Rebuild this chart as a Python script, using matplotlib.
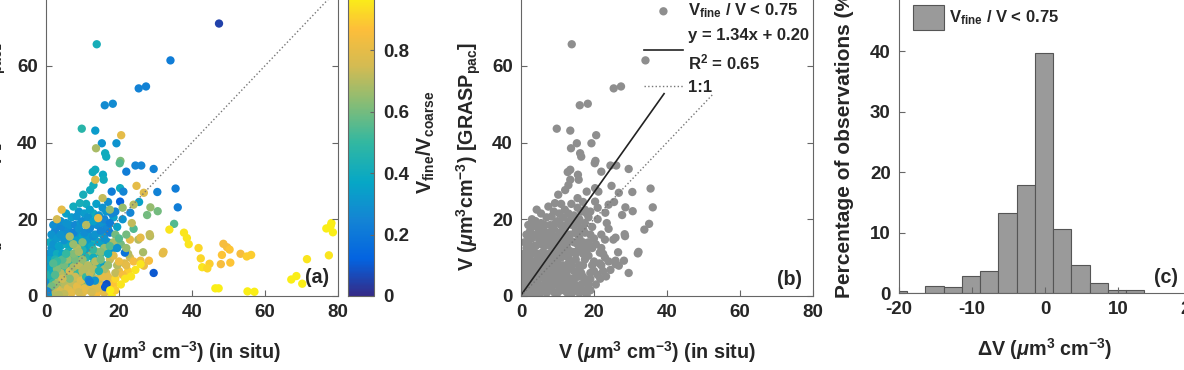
import numpy as np
import matplotlib
matplotlib.use("Agg")
import matplotlib.pyplot as plt
from matplotlib.colors import LinearSegmentedColormap

plt.rcParams['font.family'] = ['Liberation Sans', 'DejaVu Sans']
plt.rcParams['font.weight'] = 'bold'
plt.rcParams['axes.unicode_minus'] = False
plt.rcParams['mathtext.fontset'] = 'custom'
plt.rcParams['mathtext.rm'] = 'Liberation Sans:bold'
plt.rcParams['mathtext.it'] = 'Liberation Sans:italic:bold'
plt.rcParams['mathtext.bf'] = 'Liberation Sans:bold'

# ---- data: (in situ V, GRASP V, Vfine/Vcoarse), in drawing order ----
pts = [
    # left edge, blue / teal
    (0.3, 0.5, 0.30), (0.5, 2.0, 0.35), (0.8, 3.5, 0.28), (0.4, 5.0, 0.32), (1.0, 6.5, 0.38),
    (0.6, 8.0, 0.30), (1.2, 9.5, 0.35), (0.8, 11.0, 0.28), (1.5, 12.5, 0.30), (1.0, 14.0, 0.40),
    (2.0, 15.5, 0.33), (1.5, 1.0, 0.45), (2.2, 0.3, 0.40), (1.8, 4.5, 0.42), (2.5, 7.5, 0.45),
    (2.0, 10.5, 0.30), (3.0, 12.0, 0.28), (2.5, 17.0, 0.25), (3.4, 18.2, 0.25), (4.7, 17.7, 0.26),
    (6.1, 17.3, 0.28), (1.0, 9.5, 0.35), (1.5, 11.5, 0.32), (1.5, 16.0, 0.30), (2.0, 18.5, 0.28),
    # middle band, blue / teal
    (3.0, 11.0, 0.40), (4.5, 11.0, 0.35), (8.0, 11.0, 0.45), (10.0, 11.0, 0.38), (11.5, 12.0, 0.35),
    (2.0, 13.5, 0.30), (4.0, 13.0, 0.38), (5.5, 13.5, 0.42), (7.0, 14.0, 0.32), (9.0, 14.0, 0.40),
    (10.5, 13.5, 0.36), (12.0, 14.5, 0.30), (13.5, 14.5, 0.45), (15.5, 13.5, 0.40), (17.0, 14.0, 0.30),
    (3.0, 15.0, 0.32), (5.0, 16.0, 0.28), (6.5, 15.0, 0.35), (8.5, 16.0, 0.30), (18.0, 12.0, 0.30),
    (10.0, 15.5, 0.36), (11.5, 16.0, 0.32), (13.0, 15.5, 0.28), (15.5, 16.0, 0.38), (17.0, 17.5, 0.30),
    (4.0, 19.5, 0.28), (6.5, 18.5, 0.30), (8.0, 18.5, 0.26), (9.5, 19.0, 0.32),
    (11.0, 18.5, 0.40), (12.5, 18.5, 0.30), (14.0, 18.5, 0.28), (15.5, 19.0, 0.30), (16.5, 17.5, 0.26),
    (18.5, 20.5, 0.35), (5.5, 21.5, 0.35), (9.0, 22.0, 0.30), (10.5, 21.5, 0.33), (13.0, 21.5, 0.40),
    (16.5, 22.0, 0.32), (18.0, 21.5, 0.25), (13.8, 24.0, 0.35), (11.0, 24.0, 0.40),
    (3.5, 13.0, 0.35), (5.0, 14.5, 0.30), (6.5, 13.0, 0.38), (8.0, 14.5, 0.35), (9.5, 13.0, 0.30),
    (11.0, 14.5, 0.32), (12.5, 13.0, 0.38), (4.0, 16.0, 0.30), (7.5, 16.5, 0.24), (9.0, 17.5, 0.30),
    (10.5, 16.5, 0.28), (12.0, 17.5, 0.26), (13.5, 16.0, 0.30), (15.0, 17.0, 0.25), (14.5, 14.0, 0.35),
    (16.0, 15.0, 0.30), (17.5, 16.5, 0.22), (5.5, 19.0, 0.30), (7.0, 20.5, 0.33), (8.4, 20.7, 0.30),
    (10.0, 19.5, 0.28), (11.5, 20.5, 0.30), (13.0, 19.5, 0.35), (14.5, 21.0, 0.30), (16.0, 20.0, 0.25),
    (17.5, 19.0, 0.22), (9.3, 24.2, 0.42), (7.5, 23.3, 0.40), (10.2, 26.4, 0.42), (12.1, 27.6, 0.40),
    (13.0, 28.9, 0.42), (18.0, 27.2, 0.22), (20.3, 28.1, 0.40), (21.2, 27.2, 0.25), (20.3, 24.6, 0.12),
    (12.0, 22.5, 0.35), (15.5, 23.0, 0.30), (17.0, 24.5, 0.28), (19.0, 22.0, 0.25), (21.0, 20.0, 0.30),
    (19.5, 18.0, 0.35), (6.0, 11.5, 0.42), (10.0, 12.0, 0.45), (19.0, 16.0, 0.60),
    (4.3, 22.5, 0.80), (14.3, 20.3, 0.80), (13.5, 30.3, 0.78), (11.0, 18.5, 0.70), (8.5, 12.5, 0.70),
    (14.0, 11.5, 0.72), (16.0, 12.5, 0.65), (12.0, 10.5, 0.60), (18.5, 14.0, 0.68), (6.5, 15.5, 0.68),
    (15.5, 25.5, 0.72), (17.5, 22.5, 0.65), (3.0, 20.0, 0.75), (7.5, 13.5, 0.66), (10.0, 14.0, 0.62),
    # low cluster, olive / tan with some teal
    (1.0, 1.5, 0.40), (3.0, 1.0, 0.70), (6.0, 1.2, 0.72), (8.0, 1.8, 0.75), (10.0, 0.8, 0.78),
    (11.5, 2.5, 0.72), (13.0, 0.5, 0.80), (15.0, 1.5, 0.82),
    (2.0, 3.5, 0.50), (4.5, 3.0, 0.72), (6.5, 3.0, 0.68), (8.0, 3.8, 0.70), (10.0, 3.2, 0.60),
    (12.5, 2.5, 0.65), (14.5, 3.5, 0.72), (18.0, 4.0, 0.80),
    (1.0, 5.5, 0.45), (3.5, 5.0, 0.65), (5.0, 5.8, 0.70), (7.0, 5.5, 0.72), (9.0, 5.5, 0.66),
    (10.5, 4.5, 0.70), (12.5, 5.5, 0.62), (16.5, 6.0, 0.75), (13.0, 8.5, 0.55),
    (1.5, 7.5, 0.38), (3.5, 7.5, 0.60), (5.5, 7.0, 0.68), (7.0, 7.0, 0.70), (8.5, 7.5, 0.50),
    (10.5, 8.0, 0.62), (12.0, 6.5, 0.68), (14.0, 8.0, 0.45), (16.0, 8.0, 0.35),
    (2.5, 9.5, 0.45), (4.0, 8.5, 0.62), (5.5, 9.5, 0.58), (7.0, 9.0, 0.50),
    (9.0, 9.5, 0.55), (11.0, 10.0, 0.45), (13.0, 10.0, 0.40), (15.0, 11.0, 0.50),
    (6.5, 10.5, 0.60), (13.0, 12.0, 0.50),
    (4.0, 2.5, 0.45), (6.0, 7.5, 0.45), (8.0, 6.0, 0.50), (3.0, 5.5, 0.42), (9.5, 9.5, 0.42),
    (2.0, 6.5, 0.40), (7.0, 10.0, 0.40), (5.0, 6.5, 0.48),
    (2.0, 1.0, 0.70), (3.0, 2.0, 0.72), (4.0, 1.5, 0.75), (5.0, 3.0, 0.70), (3.5, 4.0, 0.68),
    (2.5, 3.0, 0.65), (6.0, 2.0, 0.78), (7.0, 3.5, 0.72), (5.5, 5.0, 0.66), (4.0, 6.0, 0.70),
    (3.0, 7.0, 0.62), (6.5, 6.5, 0.75), (8.0, 5.0, 0.74), (7.5, 7.5, 0.68), (5.0, 8.0, 0.60),
    (9.0, 8.0, 0.72), (8.5, 2.5, 0.80), (6.0, 9.5, 0.65), (4.5, 9.5, 0.55), (3.0, 9.0, 0.50),
    (2.5, 5.5, 0.55), (1.5, 2.5, 0.60), (9.5, 4.0, 0.78), (10.0, 6.5, 0.70), (10.5, 2.0, 0.80),
    (7.0, 0.8, 0.80), (5.0, 0.5, 0.72), (3.5, 0.3, 0.70), (8.0, 9.5, 0.60), (10.0, 9.5, 0.65),
    (11.0, 5.0, 0.50), (9.0, 1.0, 0.75), (6.5, 4.5, 0.62), (4.5, 4.5, 0.74), (2.0, 8.5, 0.55),
    (11.5, 8.0, 0.70), (12.0, 3.5, 0.66), (7.5, 11.0, 0.62), (5.5, 11.0, 0.50), (9.0, 11.5, 0.68),
    (0.5, 0.3, 0.35), (0.4, 1.2, 0.25),
    # lower right of cluster, orange / yellow with a few blues
    (11.0, 1.5, 0.80), (12.5, 3.0, 0.78), (14.0, 4.5, 0.75), (15.5, 2.5, 0.85), (17.0, 5.0, 0.80),
    (18.5, 3.0, 0.88), (20.0, 6.5, 0.80), (21.5, 8.5, 0.78), (23.0, 10.0, 0.75), (19.5, 8.0, 0.70),
    (17.5, 9.5, 0.72), (16.0, 7.0, 0.68), (13.5, 9.0, 0.70), (22.5, 6.5, 0.90), (24.0, 9.0, 0.85),
    (14.0, 0.8, 0.85), (19.0, 4.5, 0.92), (12.0, 6.0, 0.72), (10.5, 7.0, 0.70), (15.0, 11.5, 0.62),
    (17.5, 13.0, 0.55), (20.5, 13.5, 0.60), (22.5, 11.0, 0.70),
    (11.7, 4.2, 0.25), (16.6, 3.1, 0.08), (18.0, 0.2, 0.97), (21.6, 11.3, 0.18), (20.0, 9.0, 0.82),
    (22.0, 8.0, 0.80), (19.0, 6.0, 0.72), (14.0, 2.0, 0.78), (15.5, 5.0, 0.80), (13.0, 7.0, 0.70),
    (17.0, 8.0, 0.65), (15.0, 9.5, 0.60), (18.5, 10.5, 0.78), (13.4, 4.0, 0.30), (12.5, 1.0, 0.75),
    (16.0, 0.8, 0.80), (20.5, 3.0, 0.95), (19.0, 1.5, 0.90), (21.0, 5.5, 0.85), (14.5, 6.5, 0.45),
    (23.0, 14.7, 0.80), (25.3, 14.7, 0.70), (28.5, 15.6, 0.70), (22.0, 12.5, 0.65), (19.5, 12.5, 0.30),
    (17.0, 11.0, 0.40), (22.0, 16.0, 0.60), (24.0, 17.5, 0.55), (20.0, 15.0, 0.55), (23.5, 19.0, 0.72),
    (25.5, 24.5, 0.35), (21.0, 23.0, 0.65), (12.0, 3.7, 0.22), (16.2, 2.3, 0.10),
    # sparse points
    (47.4, 71.0, 0.05), (13.9, 65.6, 0.42), (34.1, 61.4, 0.22),
    (25.4, 54.1, 0.24), (27.4, 54.6, 0.24), (16.1, 49.7, 0.27), (18.3, 50.1, 0.27),
    (9.8, 43.6, 0.47), (13.5, 43.1, 0.33), (20.6, 41.9, 0.80),
    (15.3, 39.8, 0.30), (19.3, 39.8, 0.30), (13.7, 38.5, 0.68),
    (16.2, 37.2, 0.40), (16.5, 36.3, 0.40), (20.4, 35.2, 0.62), (20.2, 34.6, 0.55),
    (24.5, 34.0, 0.25), (26.1, 34.0, 0.25), (29.5, 33.1, 0.24), (22.0, 32.4, 0.22),
    (12.8, 32.3, 0.40), (13.5, 32.9, 0.40), (15.6, 31.6, 0.38), (15.8, 30.3, 0.40),
    (30.5, 27.1, 0.24), (35.5, 28.0, 0.22), (36.1, 23.1, 0.22), (35.1, 18.8, 0.55),
    (33.8, 17.3, 0.95), (26.8, 26.9, 0.78), (24.8, 28.7, 0.80), (24.0, 23.8, 0.70),
    (28.6, 23.1, 0.65), (30.6, 22.1, 0.60), (27.7, 21.1, 0.60), (23.1, 21.7, 0.25),
    (28.4, 16.1, 0.72), (25.9, 15.2, 0.80), (32.2, 11.5, 0.82), (29.5, 6.0, 0.10),
    (26.6, 11.4, 0.68), (25.9, 9.2, 0.82), (28.2, 9.2, 0.85), (26.8, 7.9, 0.82),
    (37.8, 16.5, 0.95), (38.6, 15.1, 0.95), (39.1, 13.5, 0.95),
    (41.8, 12.5, 0.92), (42.4, 9.8, 0.92), (42.8, 7.5, 0.95),
    (44.8, 8.4, 0.90), (44.2, 7.2, 0.92),
    (48.6, 13.6, 0.85), (49.6, 12.7, 0.85), (50.3, 12.1, 0.88), (48.2, 10.7, 0.88),
    (50.5, 8.7, 0.88), (47.9, 8.3, 0.85),
    (53.3, 11.0, 0.85), (55.0, 10.3, 0.90), (56.2, 10.7, 0.90),
    (46.4, 2.0, 0.97), (47.3, 2.0, 0.97), (55.2, 1.2, 0.97), (57.1, 1.1, 0.97),
    (71.5, 9.6, 0.95), (77.5, 10.6, 0.95),
    (76.8, 17.6, 0.97), (78.2, 19.0, 0.97), (78.0, 18.3, 0.97), (78.6, 16.6, 0.97),
    (67.2, 4.3, 0.97), (68.6, 5.2, 0.97), (70.2, 3.2, 0.97),
    (17.6, 1.5, 0.97), (21.7, 4.5, 0.95), (23.3, 5.1, 0.95), (24.5, 6.8, 0.95), (25.9, 8.3, 0.95),
    (32.0, 11.1, 0.80),
]
v_insitu = np.array([p[0] for p in pts])
v_grasp = np.array([p[1] for p in pts])
ratio = np.array([p[2] for p in pts])

# panel b keeps the points of panel a left of this in-situ value
subset_xmax = 37.0
fit_slope, fit_intercept = 1.34, 0.20
fit_xmax = 39.2
one_to_one_end_b = 52.5

# panel c histogram (percent of observations)
bin_left = [-21.4, -18.9, -16.4, -13.9, -11.4, -8.9, -6.4, -3.9, -1.4, 1.1, 3.6, 6.1, 8.6, 11.1]
bin_pct = [0.4, 0.0, 1.2, 1.0, 2.8, 3.7, 13.2, 17.9, 39.7, 10.6, 4.7, 1.6, 0.5, 0.5]
bin_width = 2.5

cbar_ticks = [0, 0.2, 0.4, 0.6, 0.8, 1.0]
cbar_ticklabels = ['0', '0.2', '0.4', '0.6', '0.8', '1']

parula = LinearSegmentedColormap.from_list('parula', [
    (0.00, (0.208, 0.166, 0.529)),
    (0.12, (0.012, 0.392, 0.882)),
    (0.25, (0.078, 0.522, 0.831)),
    (0.37, (0.024, 0.655, 0.776)),
    (0.50, (0.196, 0.720, 0.631)),
    (0.62, (0.506, 0.737, 0.471)),
    (0.75, (0.831, 0.733, 0.322)),
    (0.87, (0.992, 0.745, 0.227)),
    (1.00, (0.976, 0.984, 0.055)),
])

TXT = '#262626'
fs = 13.5
lfs = 14.2
W, H = 1184, 370
fig = plt.figure(figsize=(W / 100, H / 100), dpi=100)


def px_axes(left, right, bottom, top):
    return fig.add_axes([left / W, (H - bottom) / H, (right - left) / W, (bottom - top) / H])


def style(ax):
    for s in ax.spines.values():
        s.set_color('#666666')
        s.set_linewidth(0.8)
    ax.tick_params(direction='in', length=4, width=0.8, color='#666666', labelsize=fs,
                   labelcolor=TXT, top=True, right=True, pad=6)
    for lab in ax.get_xticklabels() + ax.get_yticklabels():
        lab.set_fontweight('bold')


xlab = r'V ($\mathit{\mu}$m$^{3}$ cm$^{-3}$) (in situ)'
ylab = r'V ($\mathit{\mu}$m$^{3}$cm$^{-3}$) [GRASP$_{\mathrm{pac}}$]'
ms = 36

# ---- panel a ----
ax1 = px_axes(46, 338, 296, -11)
sc = ax1.scatter(v_insitu, v_grasp, c=ratio, cmap=parula, vmin=0, vmax=1, s=ms, edgecolors='none')
ax1.plot([0, 80], [0, 80], ':', color='#777777', lw=1)
ax1.set_xlim(0, 80)
ax1.set_ylim(0, 80)
ax1.set_xticks([0, 20, 40, 60, 80])
ax1.set_yticks([0, 20, 40, 60, 80])
style(ax1)
ax1.set_xlabel(xlab, fontsize=lfs, fontweight='bold', color=TXT)
ax1.xaxis.set_label_coords(0.465, -0.142)
ax1.set_ylabel(ylab, fontsize=lfs, fontweight='bold', color=TXT)
ax1.yaxis.set_label_coords(-0.13, 0.455)
ax1.text(0.93, 0.06, '(a)', transform=ax1.transAxes, ha='center', va='center',
         fontsize=lfs, fontweight='bold', color=TXT)

cax = px_axes(348, 374, 296, -11)
cb = fig.colorbar(sc, cax=cax)
cb.set_ticks(cbar_ticks)
cb.set_ticklabels(cbar_ticklabels)
cb.outline.set_edgecolor('#666666')
cb.outline.set_linewidth(0.8)
cax.tick_params(direction='in', length=3, color='#666666', labelsize=fs, labelcolor=TXT, pad=7)
for lab in cax.get_yticklabels():
    lab.set_fontweight('bold')
cb.set_label(r'V$_{\mathrm{fine}}$/V$_{\mathrm{coarse}}$', fontsize=lfs, fontweight='bold', color=TXT)
cax.yaxis.set_label_coords(2.55, 0.5)

# ---- panel b ----
ax2 = px_axes(521, 813, 296, -11)
m = v_insitu < subset_xmax
ax2.scatter(v_insitu[m], v_grasp[m], color='#8e8e8e', s=ms, edgecolors='none',
            label=r'V$_{\mathrm{fine}}$ / V < 0.75')
fx = np.array([0, fit_xmax])
ax2.plot(fx, fit_slope * fx + fit_intercept, '-', color='#222222', lw=1.2,
         label='y = %.2fx + %.2f\nR$^{2}$ = 0.65' % (fit_slope, fit_intercept))
ax2.plot([0, one_to_one_end_b], [0, one_to_one_end_b], ':', color='#777777', lw=1, label='1:1')
ax2.set_xlim(0, 80)
ax2.set_ylim(0, 80)
ax2.set_xticks([0, 20, 40, 60, 80])
ax2.set_yticks([0, 20, 40, 60, 80])
style(ax2)
ax2.set_xlabel(xlab, fontsize=lfs, fontweight='bold', color=TXT)
ax2.xaxis.set_label_coords(0.465, -0.142)
ax2.set_ylabel(ylab, fontsize=lfs, fontweight='bold', color=TXT)
ax2.yaxis.set_label_coords(-0.13, 0.455)
ax2.text(0.92, 0.055, '(b)', transform=ax2.transAxes, ha='center', va='center',
         fontsize=lfs, fontweight='bold', color=TXT)
leg = ax2.legend(loc='upper left', bbox_to_anchor=(0.405, 0.975), frameon=False,
                 prop={'size': 12, 'weight': 'bold'}, handlelength=2.3, handletextpad=0.3,
                 labelspacing=0.45, borderaxespad=0, borderpad=0.3)
for t in leg.get_texts():
    t.set_color(TXT)
leg.get_texts()[1].set_linespacing(1.55)

# ---- panel c ----
ax3 = px_axes(899, 1191, 293, -9)
ax3.bar(bin_left, bin_pct, width=bin_width, align='edge', color='#9a9a9a',
        edgecolor='#555555', linewidth=0.8, label=r'V$_{\mathrm{fine}}$ / V < 0.75')
ax3.set_xlim(-20, 20)
ax3.set_ylim(0, 50)
ax3.set_xticks([-20, -10, 0, 10, 20])
ax3.set_yticks([0, 10, 20, 30, 40, 50])
style(ax3)
ax3.set_xlabel(r'$\Delta$V ($\mathit{\mu}$m$^{3}$ cm$^{-3}$)', fontsize=lfs, fontweight='bold', color=TXT)
ax3.xaxis.set_label_coords(0.5, -0.142)
ax3.set_ylabel('Percentage of observations (%)', fontsize=15, fontweight='bold', color=TXT)
ax3.yaxis.set_label_coords(-0.155, 0.5)
ax3.text(0.915, 0.05, '(c)', transform=ax3.transAxes, ha='center', va='center',
         fontsize=lfs, fontweight='bold', color=TXT)
leg3 = ax3.legend(loc='upper left', bbox_to_anchor=(0.03, 0.97), frameon=False,
                  prop={'size': 12, 'weight': 'bold'}, handlelength=1.9, handleheight=1.9,
                  handletextpad=0.3, borderaxespad=0, borderpad=0.3)
for t in leg3.get_texts():
    t.set_color(TXT)

fig.savefig('out.png', dpi=100)
